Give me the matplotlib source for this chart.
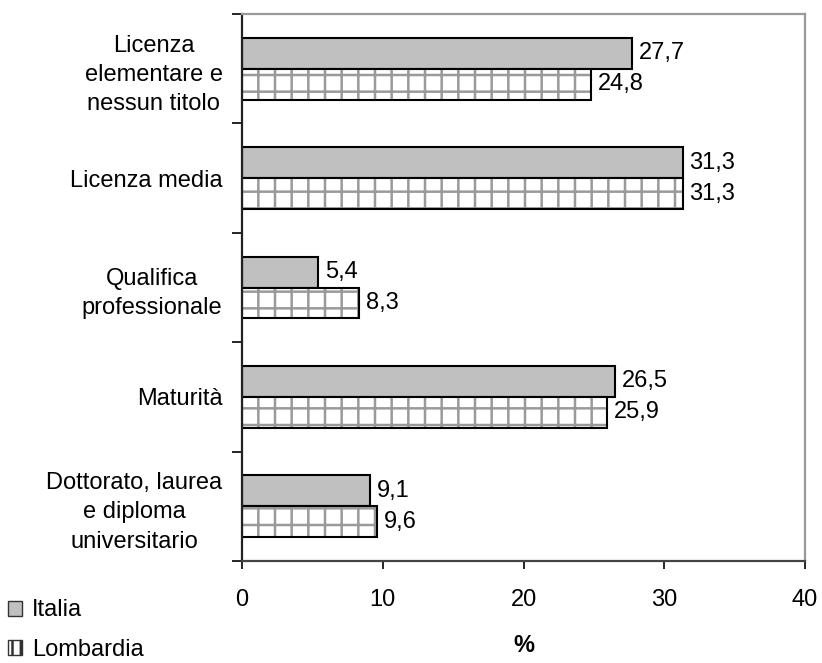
import matplotlib
matplotlib.use("Agg")
import matplotlib.pyplot as plt
import numpy as np
from matplotlib.patches import Patch

plt.rcParams['font.family'] = ['Liberation Sans', 'DejaVu Sans']
plt.rcParams['hatch.linewidth'] = 1.8

categories = [
    "Licenza\nelementare e\nnessun titolo",
    "Licenza media",
    "Qualifica\nprofessionale",
    "Maturità",
    "Dottorato, laurea\ne diploma\nuniversitario",
]
italia = [27.7, 31.3, 5.4, 26.5, 9.1]
lombardia = [24.8, 31.3, 8.3, 25.9, 9.6]
series_names = ["Italia", "Lombardia"]
x_ticks = [0, 10, 20, 30, 40]

hatch_gray = '#9a9a9a'

fig = plt.figure(figsize=(8.22, 6.63), dpi=100)
ax = fig.add_axes([242 / 822, 1 - 561 / 663, (805 - 242) / 822, (561 - 14) / 663])

y = np.arange(len(categories))
h = 0.283
fs = 17

ax.barh(y - h / 2, italia, height=h, color='#c0c0c0', edgecolor='black', linewidth=1.5)
# hatched fill in gray, then the black outline on top
ax.barh(y + h / 2, lombardia, height=h, color='white', edgecolor=hatch_gray, linewidth=0, hatch='+')
ax.barh(y + h / 2, lombardia, height=h, fill=False, edgecolor='black', linewidth=1.5)

for yi, v in zip(y, italia):
    ax.annotate(f"{v:.1f}".replace('.', ','), (v, yi - h / 2), xytext=(5, 0),
                textcoords='offset points', va='center', ha='left', fontsize=fs)
for yi, v in zip(y, lombardia):
    ax.annotate(f"{v:.1f}".replace('.', ','), (v, yi + h / 2), xytext=(5, 0),
                textcoords='offset points', va='center', ha='left', fontsize=fs)

ax.set_xlim(0, 40)
ax.set_ylim(len(categories) - 0.5, -0.5)
ax.set_xticks(x_ticks)
ax.set_xticklabels([str(t) for t in x_ticks], fontsize=fs)
ax.tick_params(axis='x', direction='out', length=6, width=1.2, pad=14, color='black')

ax.set_yticks(y)
ax.set_yticklabels(categories, fontsize=fs)
for lbl in ax.get_yticklabels():
    lbl.set_multialignment('center')
    lbl.set_linespacing(1.42)
ax.tick_params(axis='y', which='major', length=0, pad=14)
ax.set_yticks(np.arange(-0.5, len(categories)), minor=True)
ax.tick_params(axis='y', which='minor', length=7, width=1.2, direction='out', color='black')

ax.set_xlabel('%', fontsize=fs, fontweight='bold', labelpad=17)

ax.spines['left'].set_color('#222222')
ax.spines['bottom'].set_color('#444444')
ax.spines['top'].set_color('#999999')
ax.spines['right'].set_color('#999999')
for s in ax.spines.values():
    s.set_linewidth(1.6)

handles = [
    Patch(facecolor='#c0c0c0', edgecolor='#333333', linewidth=1.0),
    Patch(facecolor='white', edgecolor='#333333', linewidth=1.0, hatch='||'),
]
fig.legend(handles, series_names, loc='lower left', bbox_to_anchor=(-0.01, -0.022),
           frameon=False, fontsize=fs, handlelength=0.6, handleheight=0.6,
           handletextpad=0.4, labelspacing=0.75, borderaxespad=0.3)

fig.savefig('out.png', dpi=100)
